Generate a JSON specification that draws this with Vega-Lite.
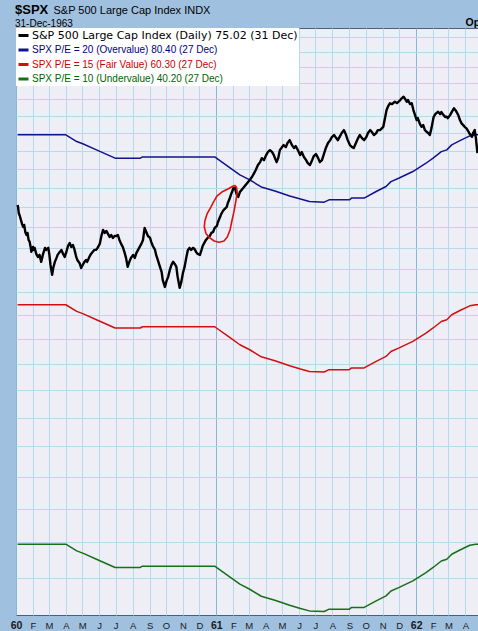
{
  "$schema": "https://vega.github.io/schema/vega-lite/v6.json",
  "width": 462,
  "height": 587,
  "autosize": "none",
  "padding": {"left": 16, "top": 28, "right": 0, "bottom": 16},
  "background": "#A0C0E0",
  "config": {
    "view": {"fill": "#EEEEF6", "stroke": "#4A5F78", "strokeWidth": 1},
    "font": "Liberation Sans"
  },
  "title": {
    "text": "$SPX",
    "subtitle": "31-Dec-1963",
    "anchor": "start",
    "frame": "group",
    "font": "Liberation Sans",
    "fontSize": 13,
    "fontWeight": "bold",
    "color": "#000000",
    "subtitleFont": "Liberation Sans",
    "subtitleFontSize": 10,
    "subtitleColor": "#000000",
    "subtitlePadding": 2,
    "offset": -25,
    "dx": -1
  },
  "datasets": {
    "spx": [
      {"date": "1960-01-04", "close": 60.21}, {"date": "1960-01-05", "close": 59.90}, {"date": "1960-01-06", "close": 59.40},
      {"date": "1960-01-08", "close": 59.10}, {"date": "1960-01-12", "close": 58.31}, {"date": "1960-01-14", "close": 58.01},
      {"date": "1960-01-16", "close": 58.21}, {"date": "1960-01-18", "close": 57.52}, {"date": "1960-01-20", "close": 57.23},
      {"date": "1960-01-22", "close": 57.43}, {"date": "1960-01-24", "close": 56.75}, {"date": "1960-01-26", "close": 56.56},
      {"date": "1960-01-28", "close": 55.99}, {"date": "1960-01-29", "close": 55.61}, {"date": "1960-02-01", "close": 56.08},
      {"date": "1960-02-02", "close": 55.80}, {"date": "1960-02-04", "close": 55.99}, {"date": "1960-02-07", "close": 55.42},
      {"date": "1960-02-10", "close": 55.14}, {"date": "1960-02-13", "close": 55.33}, {"date": "1960-02-16", "close": 54.68},
      {"date": "1960-02-19", "close": 55.33}, {"date": "1960-02-23", "close": 55.99}, {"date": "1960-02-25", "close": 55.80},
      {"date": "1960-02-29", "close": 55.99}, {"date": "1960-03-02", "close": 55.33}, {"date": "1960-03-04", "close": 54.40},
      {"date": "1960-03-07", "close": 53.49}, {"date": "1960-03-09", "close": 54.12}, {"date": "1960-03-12", "close": 54.68},
      {"date": "1960-03-15", "close": 55.05}, {"date": "1960-03-17", "close": 55.33}, {"date": "1960-03-21", "close": 55.61},
      {"date": "1960-03-24", "close": 55.80}, {"date": "1960-03-27", "close": 55.42}, {"date": "1960-03-30", "close": 55.14},
      {"date": "1960-04-02", "close": 55.61}, {"date": "1960-04-05", "close": 56.17}, {"date": "1960-04-08", "close": 56.46},
      {"date": "1960-04-11", "close": 56.08}, {"date": "1960-04-14", "close": 56.27}, {"date": "1960-04-17", "close": 55.80},
      {"date": "1960-04-20", "close": 55.14}, {"date": "1960-04-22", "close": 54.86}, {"date": "1960-04-26", "close": 54.58},
      {"date": "1960-04-29", "close": 54.12}, {"date": "1960-05-02", "close": 54.40}, {"date": "1960-05-05", "close": 54.68},
      {"date": "1960-05-08", "close": 54.86}, {"date": "1960-05-10", "close": 54.68}, {"date": "1960-05-14", "close": 55.14},
      {"date": "1960-05-17", "close": 55.42}, {"date": "1960-05-20", "close": 55.61}, {"date": "1960-05-23", "close": 55.80},
      {"date": "1960-05-26", "close": 55.80}, {"date": "1960-05-29", "close": 55.99}, {"date": "1960-06-02", "close": 56.37},
      {"date": "1960-06-05", "close": 57.13}, {"date": "1960-06-08", "close": 57.72}, {"date": "1960-06-11", "close": 57.43},
      {"date": "1960-06-14", "close": 57.62}, {"date": "1960-06-17", "close": 57.33}, {"date": "1960-06-20", "close": 57.04},
      {"date": "1960-06-23", "close": 57.23}, {"date": "1960-06-26", "close": 56.94}, {"date": "1960-06-29", "close": 57.13},
      {"date": "1960-07-02", "close": 57.13}, {"date": "1960-07-05", "close": 57.23}, {"date": "1960-07-08", "close": 56.75},
      {"date": "1960-07-11", "close": 56.37}, {"date": "1960-07-14", "close": 56.08}, {"date": "1960-07-17", "close": 55.61},
      {"date": "1960-07-20", "close": 55.05}, {"date": "1960-07-23", "close": 54.22}, {"date": "1960-07-26", "close": 54.68},
      {"date": "1960-07-29", "close": 55.05}, {"date": "1960-08-02", "close": 55.33}, {"date": "1960-08-05", "close": 55.05},
      {"date": "1960-08-08", "close": 55.52}, {"date": "1960-08-11", "close": 55.80}, {"date": "1960-08-14", "close": 56.08},
      {"date": "1960-08-17", "close": 56.37}, {"date": "1960-08-20", "close": 56.75}, {"date": "1960-08-23", "close": 57.92},
      {"date": "1960-08-26", "close": 57.52}, {"date": "1960-08-29", "close": 57.13}, {"date": "1960-09-02", "close": 56.94},
      {"date": "1960-09-04", "close": 56.56}, {"date": "1960-09-07", "close": 56.17}, {"date": "1960-09-11", "close": 55.80},
      {"date": "1960-09-13", "close": 55.33}, {"date": "1960-09-16", "close": 54.86}, {"date": "1960-09-20", "close": 54.22},
      {"date": "1960-09-23", "close": 53.76}, {"date": "1960-09-25", "close": 53.04}, {"date": "1960-09-29", "close": 52.41},
      {"date": "1960-10-02", "close": 52.95}, {"date": "1960-10-05", "close": 53.31}, {"date": "1960-10-08", "close": 53.94},
      {"date": "1960-10-11", "close": 54.40}, {"date": "1960-10-14", "close": 54.68}, {"date": "1960-10-17", "close": 54.49},
      {"date": "1960-10-20", "close": 54.22}, {"date": "1960-10-22", "close": 53.40}, {"date": "1960-10-26", "close": 52.33},
      {"date": "1960-10-29", "close": 52.86}, {"date": "1960-11-01", "close": 53.67}, {"date": "1960-11-04", "close": 54.22},
      {"date": "1960-11-07", "close": 55.05}, {"date": "1960-11-10", "close": 55.80}, {"date": "1960-11-13", "close": 55.99},
      {"date": "1960-11-16", "close": 55.80}, {"date": "1960-11-19", "close": 55.99}, {"date": "1960-11-22", "close": 55.90},
      {"date": "1960-11-25", "close": 55.61}, {"date": "1960-11-28", "close": 55.42}, {"date": "1960-12-02", "close": 55.33},
      {"date": "1960-12-05", "close": 55.80}, {"date": "1960-12-07", "close": 56.17}, {"date": "1960-12-11", "close": 56.56},
      {"date": "1960-12-13", "close": 56.75}, {"date": "1960-12-16", "close": 56.94}, {"date": "1960-12-20", "close": 57.13},
      {"date": "1960-12-23", "close": 57.43}, {"date": "1960-12-26", "close": 57.52}, {"date": "1960-12-29", "close": 57.92},
      {"date": "1961-01-02", "close": 58.11}, {"date": "1961-01-04", "close": 58.50}, {"date": "1961-01-07", "close": 58.90},
      {"date": "1961-01-10", "close": 59.30}, {"date": "1961-01-13", "close": 59.60}, {"date": "1961-01-16", "close": 59.80},
      {"date": "1961-01-20", "close": 60.01}, {"date": "1961-01-22", "close": 60.41}, {"date": "1961-01-25", "close": 60.82},
      {"date": "1961-01-28", "close": 61.33}, {"date": "1961-01-31", "close": 61.75}, {"date": "1961-02-01", "close": 61.96},
      {"date": "1961-02-04", "close": 61.96}, {"date": "1961-02-07", "close": 61.33}, {"date": "1961-02-10", "close": 61.03},
      {"date": "1961-02-13", "close": 61.54}, {"date": "1961-02-16", "close": 61.75}, {"date": "1961-02-19", "close": 61.96},
      {"date": "1961-02-22", "close": 62.17}, {"date": "1961-02-25", "close": 62.39}, {"date": "1961-02-28", "close": 62.60},
      {"date": "1961-03-03", "close": 62.81}, {"date": "1961-03-07", "close": 63.13}, {"date": "1961-03-11", "close": 63.55},
      {"date": "1961-03-14", "close": 63.88}, {"date": "1961-03-18", "close": 64.42}, {"date": "1961-03-22", "close": 64.74},
      {"date": "1961-03-25", "close": 65.18}, {"date": "1961-03-29", "close": 64.96}, {"date": "1961-04-02", "close": 65.52},
      {"date": "1961-04-05", "close": 65.85}, {"date": "1961-04-09", "close": 66.07}, {"date": "1961-04-13", "close": 65.85},
      {"date": "1961-04-16", "close": 65.52}, {"date": "1961-04-21", "close": 64.74}, {"date": "1961-04-24", "close": 65.18},
      {"date": "1961-04-27", "close": 66.07}, {"date": "1961-05-01", "close": 66.41}, {"date": "1961-05-04", "close": 66.64},
      {"date": "1961-05-08", "close": 66.41}, {"date": "1961-05-11", "close": 66.87}, {"date": "1961-05-15", "close": 67.20},
      {"date": "1961-05-19", "close": 66.64}, {"date": "1961-05-23", "close": 66.30}, {"date": "1961-05-26", "close": 66.52},
      {"date": "1961-05-30", "close": 66.07}, {"date": "1961-06-03", "close": 65.52}, {"date": "1961-06-06", "close": 65.85},
      {"date": "1961-06-10", "close": 65.30}, {"date": "1961-06-14", "close": 64.96}, {"date": "1961-06-17", "close": 64.64},
      {"date": "1961-06-21", "close": 64.42}, {"date": "1961-06-25", "close": 64.96}, {"date": "1961-06-28", "close": 65.41},
      {"date": "1961-07-02", "close": 65.63}, {"date": "1961-07-06", "close": 65.18}, {"date": "1961-07-09", "close": 64.74},
      {"date": "1961-07-13", "close": 64.96}, {"date": "1961-07-17", "close": 65.74}, {"date": "1961-07-20", "close": 66.30},
      {"date": "1961-07-24", "close": 66.87}, {"date": "1961-07-28", "close": 67.20}, {"date": "1961-07-31", "close": 67.55},
      {"date": "1961-08-04", "close": 67.78}, {"date": "1961-08-08", "close": 67.43}, {"date": "1961-08-11", "close": 67.20},
      {"date": "1961-08-15", "close": 67.66}, {"date": "1961-08-18", "close": 68.01}, {"date": "1961-08-22", "close": 68.35},
      {"date": "1961-08-26", "close": 67.78}, {"date": "1961-08-29", "close": 67.20}, {"date": "1961-09-02", "close": 66.64},
      {"date": "1961-09-06", "close": 66.41}, {"date": "1961-09-09", "close": 66.30}, {"date": "1961-09-13", "close": 66.87},
      {"date": "1961-09-17", "close": 67.43}, {"date": "1961-09-20", "close": 67.78}, {"date": "1961-09-24", "close": 67.43},
      {"date": "1961-09-28", "close": 67.20}, {"date": "1961-10-02", "close": 67.55}, {"date": "1961-10-05", "close": 68.01},
      {"date": "1961-10-09", "close": 68.35}, {"date": "1961-10-12", "close": 68.12}, {"date": "1961-10-16", "close": 67.78},
      {"date": "1961-10-20", "close": 68.01}, {"date": "1961-10-23", "close": 68.35}, {"date": "1961-10-27", "close": 68.35},
      {"date": "1961-11-02", "close": 68.73}, {"date": "1961-11-08", "close": 70.71}, {"date": "1961-11-11", "close": 71.19},
      {"date": "1961-11-14", "close": 71.52}, {"date": "1961-11-18", "close": 71.43}, {"date": "1961-11-23", "close": 71.71},
      {"date": "1961-11-27", "close": 71.55}, {"date": "1961-12-03", "close": 71.92}, {"date": "1961-12-06", "close": 72.16},
      {"date": "1961-12-09", "close": 72.33}, {"date": "1961-12-12", "close": 72.04}, {"date": "1961-12-15", "close": 71.71},
      {"date": "1961-12-17", "close": 71.92}, {"date": "1961-12-21", "close": 71.43}, {"date": "1961-12-24", "close": 71.52},
      {"date": "1961-12-27", "close": 70.71}, {"date": "1961-12-30", "close": 70.11}, {"date": "1962-01-02", "close": 69.52},
      {"date": "1962-01-04", "close": 69.75}, {"date": "1962-01-08", "close": 69.05}, {"date": "1962-01-11", "close": 68.73},
      {"date": "1962-01-14", "close": 68.93}, {"date": "1962-01-17", "close": 68.35}, {"date": "1962-01-20", "close": 68.16},
      {"date": "1962-01-23", "close": 68.01}, {"date": "1962-01-26", "close": 67.78}, {"date": "1962-01-29", "close": 68.58},
      {"date": "1962-02-02", "close": 69.91}, {"date": "1962-02-05", "close": 70.23}, {"date": "1962-02-07", "close": 70.35},
      {"date": "1962-02-10", "close": 70.51}, {"date": "1962-02-14", "close": 70.23}, {"date": "1962-02-16", "close": 70.47},
      {"date": "1962-02-20", "close": 70.11}, {"date": "1962-02-23", "close": 69.87}, {"date": "1962-02-26", "close": 69.91},
      {"date": "1962-02-28", "close": 69.75}, {"date": "1962-03-04", "close": 70.11}, {"date": "1962-03-08", "close": 70.59},
      {"date": "1962-03-11", "close": 70.91}, {"date": "1962-03-15", "close": 70.59}, {"date": "1962-03-19", "close": 70.11},
      {"date": "1962-03-22", "close": 69.52}, {"date": "1962-03-25", "close": 69.13}, {"date": "1962-03-28", "close": 68.93},
      {"date": "1962-03-31", "close": 68.70}, {"date": "1962-04-03", "close": 68.55}, {"date": "1962-04-06", "close": 68.24},
      {"date": "1962-04-09", "close": 67.89}, {"date": "1962-04-13", "close": 67.58}, {"date": "1962-04-15", "close": 68.01},
      {"date": "1962-04-18", "close": 68.35}, {"date": "1962-04-20", "close": 67.50}, {"date": "1962-04-23", "close": 65.74}
    ],
    "pe": [
      {"date": "1960-01-04", "pe20": 67.80, "pe15": 50.85, "pe10": 33.90},
      {"date": "1960-04-01", "pe20": 67.80, "pe15": 50.85, "pe10": 33.90},
      {"date": "1960-04-21", "pe20": 67.04, "pe15": 50.28, "pe10": 33.52},
      {"date": "1960-05-03", "pe20": 66.76, "pe15": 50.07, "pe10": 33.38},
      {"date": "1960-05-27", "pe20": 66.10, "pe15": 49.58, "pe10": 33.05},
      {"date": "1960-06-30", "pe20": 65.18, "pe15": 48.89, "pe10": 32.59},
      {"date": "1960-08-15", "pe20": 65.18, "pe15": 48.89, "pe10": 32.59},
      {"date": "1960-08-19", "pe20": 65.32, "pe15": 48.99, "pe10": 32.66},
      {"date": "1960-12-29", "pe20": 65.32, "pe15": 48.99, "pe10": 32.66},
      {"date": "1961-01-26", "pe20": 64.12, "pe15": 48.09, "pe10": 32.06},
      {"date": "1961-02-13", "pe20": 63.36, "pe15": 47.52, "pe10": 31.68},
      {"date": "1961-03-03", "pe20": 62.82, "pe15": 47.12, "pe10": 31.41},
      {"date": "1961-03-24", "pe20": 62.08, "pe15": 46.56, "pe10": 31.04},
      {"date": "1961-04-18", "pe20": 61.66, "pe15": 46.25, "pe10": 30.83},
      {"date": "1961-05-15", "pe20": 61.14, "pe15": 45.86, "pe10": 30.57},
      {"date": "1961-06-02", "pe20": 60.84, "pe15": 45.63, "pe10": 30.42},
      {"date": "1961-06-20", "pe20": 60.56, "pe15": 45.42, "pe10": 30.28},
      {"date": "1961-07-17", "pe20": 60.50, "pe15": 45.38, "pe10": 30.25},
      {"date": "1961-07-26", "pe20": 60.74, "pe15": 45.56, "pe10": 30.37},
      {"date": "1961-09-01", "pe20": 60.74, "pe15": 45.56, "pe10": 30.37},
      {"date": "1961-09-05", "pe20": 60.92, "pe15": 45.69, "pe10": 30.46},
      {"date": "1961-09-28", "pe20": 60.92, "pe15": 45.69, "pe10": 30.46},
      {"date": "1961-10-20", "pe20": 61.60, "pe15": 46.20, "pe10": 30.80},
      {"date": "1961-11-07", "pe20": 62.12, "pe15": 46.59, "pe10": 31.06},
      {"date": "1961-11-16", "pe20": 62.64, "pe15": 46.98, "pe10": 31.32},
      {"date": "1961-12-01", "pe20": 63.02, "pe15": 47.27, "pe10": 31.51},
      {"date": "1961-12-26", "pe20": 63.72, "pe15": 47.79, "pe10": 31.86},
      {"date": "1962-01-19", "pe20": 64.62, "pe15": 48.47, "pe10": 32.31},
      {"date": "1962-02-01", "pe20": 65.18, "pe15": 48.89, "pe10": 32.59},
      {"date": "1962-02-16", "pe20": 65.90, "pe15": 49.43, "pe10": 32.95},
      {"date": "1962-02-26", "pe20": 66.10, "pe15": 49.58, "pe10": 33.05},
      {"date": "1962-03-07", "pe20": 66.66, "pe15": 50.00, "pe10": 33.33},
      {"date": "1962-03-22", "pe20": 67.14, "pe15": 50.36, "pe10": 33.57},
      {"date": "1962-04-09", "pe20": 67.68, "pe15": 50.76, "pe10": 33.84},
      {"date": "1962-04-20", "pe20": 67.80, "pe15": 50.85, "pe10": 33.90},
      {"date": "1962-04-27", "pe20": 67.80, "pe15": 50.85, "pe10": 33.90}
    ],
    "loop": [
      {"i": 0, "date": "1961-02-01", "value": 62.17}, {"i": 1, "date": "1961-01-22", "value": 61.86},
      {"i": 2, "date": "1961-01-11", "value": 61.54}, {"i": 3, "date": "1961-01-02", "value": 61.13},
      {"i": 4, "date": "1960-12-27", "value": 60.52}, {"i": 5, "date": "1960-12-21", "value": 59.90},
      {"i": 6, "date": "1960-12-15", "value": 59.30}, {"i": 7, "date": "1960-12-11", "value": 58.60},
      {"i": 8, "date": "1960-12-10", "value": 58.01}, {"i": 9, "date": "1960-12-13", "value": 57.38},
      {"i": 10, "date": "1960-12-20", "value": 56.94}, {"i": 11, "date": "1960-12-28", "value": 56.65},
      {"i": 12, "date": "1961-01-06", "value": 56.53}, {"i": 13, "date": "1961-01-15", "value": 56.65},
      {"i": 14, "date": "1961-01-21", "value": 57.04}, {"i": 15, "date": "1961-01-26", "value": 57.72},
      {"i": 16, "date": "1961-01-29", "value": 58.50}, {"i": 17, "date": "1961-02-02", "value": 59.50},
      {"i": 18, "date": "1961-02-06", "value": 60.72}, {"i": 19, "date": "1961-02-08", "value": 61.54},
      {"i": 20, "date": "1961-02-07", "value": 62.02}, {"i": 21, "date": "1961-02-04", "value": 62.23},
      {"i": 22, "date": "1961-02-01", "value": 62.17}
    ]
  },
  "layer": [
    {
      "data": {"name": "pe"},
      "transform": [{"fold": ["pe20", "pe15", "pe10"], "as": ["series", "value"]}],
      "mark": {"type": "line", "strokeWidth": 1.5, "clip": true, "strokeJoin": "round"},
      "encoding": {
        "x": {
          "field": "date", "type": "temporal",
          "scale": {"type": "utc", "domain": [{"year": 1960, "month": 1, "date": 1, "utc": true}, {"year": 1962, "month": 4, "date": 24, "utc": true}], "nice": false},
          "axis": {
            "orient": "bottom",
            "tickCount": {"interval": "month", "step": 1},
            "labelExpr": "utcmonth(datum.value) === 0 ? utcFormat(datum.value, '%y') : substring(utcFormat(datum.value, '%b'), 0, 1)",
            "labelFont": "Liberation Sans",
            "labelFontSize": {"condition": {"test": "utcmonth(datum.value) === 0", "value": 10.5}, "value": 9.5},
            "labelFontWeight": {"condition": {"test": "utcmonth(datum.value) === 0", "value": "bold"}, "value": "normal"},
            "labelColor": "#1a1a1a",
            "labelAngle": 0,
            "labelAlign": "center",
            "labelBaseline": "top",
            "labelPadding": 5,
            "labelOverlap": false,
            "labelFlush": false,
            "labelBound": false,
            "ticks": false,
            "tickSize": 0,
            "domain": false,
            "grid": true,
            "gridColor": {"condition": {"test": "utcmonth(datum.value) === 0", "value": "#86B6D8"}, "value": "#B6DAEA"},
            "gridWidth": 1,
            "title": null
          }
        },
        "y": {
          "field": "value", "type": "quantitative",
          "scale": {"type": "log", "domain": [30.07, 81.25], "nice": false, "zero": false},
          "axis": {
            "orient": "right",
            "values": [32, 34, 36, 38, 40, 42, 44, 46, 48, 50, 52, 54, 56, 58, 60, 62, 64, 66, 68, 70, 72, 74, 76, 78, 80],
            "labels": false,
            "ticks": false,
            "domain": false,
            "grid": true,
            "gridColor": "#B6DAEA",
            "gridWidth": 1,
            "title": "Open 75.52  High 75.52  Low 74.98  Close 75.02",
            "titleAngle": 0,
            "titleAlign": "left",
            "titleBaseline": "alphabetic",
            "titleX": -13,
            "titleY": -3,
            "titleFont": "Liberation Sans",
            "titleFontSize": 10.5,
            "titleFontWeight": "bold",
            "titleColor": "#000000"
          }
        },
        "color": {
          "field": "series", "type": "nominal",
          "scale": {"domain": ["spx", "pe20", "pe15", "pe10"], "range": ["#000000", "#12128C", "#D01010", "#167016"]},
          "legend": {
            "orient": "top-left",
            "offset": 0,
            "padding": 1,
            "fillColor": "#FFFFFF",
            "title": null,
            "symbolType": "stroke",
            "symbolSize": 100,
            "symbolStrokeWidth": 3,
            "labelFont": "Liberation Sans",
            "labelFontSize": 10,
            "labelOffset": 2,
            "labelLimit": 400,
            "rowPadding": 1.5,
            "labelExpr": "datum.label === 'spx' ? 'S&P 500 Large Cap Index (Daily) 75.02 (31 Dec)' : datum.label === 'pe20' ? 'SPX P/E = 20 (Overvalue) 80.40 (27 Dec)' : datum.label === 'pe15' ? 'SPX P/E = 15 (Fair Value) 60.30 (27 Dec)' : 'SPX P/E = 10 (Undervalue) 40.20 (27 Dec)'",
            "encode": {
              "labels": {
                "update": {
                  "fill": {"signal": "datum.value === 'spx' ? '#000000' : datum.value === 'pe20' ? '#000080' : datum.value === 'pe15' ? '#CC0000' : '#006400'"},
                  "font": {"signal": "datum.value === 'spx' ? 'DejaVu Sans' : 'Liberation Sans'"},
                  "fontSize": {"signal": "datum.value === 'spx' ? 11 : 10"}
                }
              }
            }
          }
        }
      }
    },
    {
      "data": {"name": "spx"},
      "mark": {"type": "line", "strokeWidth": 2.4, "clip": true, "strokeJoin": "round"},
      "encoding": {
        "x": {"field": "date", "type": "temporal", "axis": null},
        "y": {"field": "close", "type": "quantitative"},
        "color": {"datum": "spx", "type": "nominal"}
      }
    },
    {
      "data": {"name": "loop"},
      "mark": {"type": "line", "strokeWidth": 1.6, "clip": true, "strokeJoin": "round", "color": "#E01010"},
      "encoding": {
        "x": {
          "field": "date", "type": "temporal",
          "axis": {
            "orient": "top",
            "labels": false,
            "ticks": false,
            "domain": false,
            "grid": false,
            "title": "S&P 500 Large Cap Index  INDX",
            "titleFont": "Liberation Sans",
            "titleFontSize": 11,
            "titleFontWeight": "normal",
            "titleColor": "#000000",
            "titleAlign": "left",
            "titleAnchor": "start",
            "titleBaseline": "alphabetic",
            "titleX": 37,
            "titleY": -15
          }
        },
        "y": {"field": "value", "type": "quantitative"},
        "order": {"field": "i", "type": "quantitative"}
      }
    }
  ],
  "resolve": {"axis": {"x": "independent"}}
}
